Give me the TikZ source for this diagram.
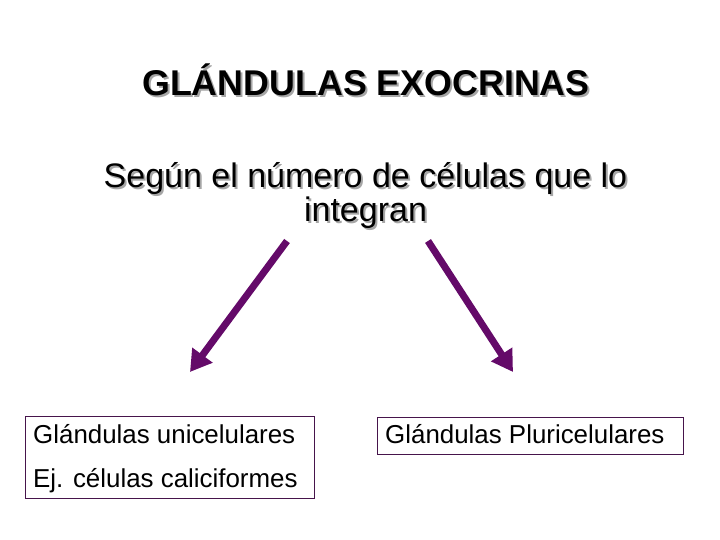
\documentclass[tikz,border=0pt]{standalone}
\usepackage{fontspec}
\setmainfont{Liberation Sans}
\usetikzlibrary{arrows.meta}
\definecolor{arrowpurple}{RGB}{100,10,105}
\definecolor{boxpurple}{RGB}{70,20,75}
\tikzset{
  txt/.style={inner sep=0pt, anchor=base},
  shadowtxt/.style={txt, text=black!35},
  fatarrow/.style={draw=arrowpurple, line width=7pt, -{Triangle[length=21pt,width=24pt]}},
  labelbox/.style={draw=boxpurple, line width=0.9pt}
}
\begin{document}
\begin{tikzpicture}[x=1pt,y=-1pt]
\useasboundingbox (0,0) rectangle (720,540);
% title
\node[shadowtxt] at (368,98) {\fontsize{35.8}{40}\selectfont\bfseries GLÁNDULAS EXOCRINAS};
\node[txt] (title) at (366,96) {\fontsize{35.8}{40}\selectfont\bfseries GLÁNDULAS EXOCRINAS};
% subtitle
\node[shadowtxt] at (367.5,190) {\fontsize{34}{36}\selectfont Según el número de células que lo};
\node[txt] (sub1) at (365.5,188) {\fontsize{34}{36}\selectfont Según el número de células que lo};
\node[shadowtxt] at (367.5,224) {\fontsize{34}{36}\selectfont integran};
\node[txt] (sub2) at (365.5,222) {\fontsize{34}{36}\selectfont integran};
% arrows
\coordinate (a1s) at (287,241);
\coordinate (a1e) at (190,372);
\coordinate (a2s) at (428,241);
\coordinate (a2e) at (513,372);
\draw[fatarrow] (a1s) -- (a1e);
\draw[fatarrow] (a2s) -- (a2e);
% boxes
\draw[labelbox] (25,416) rectangle (314,498);
\node[txt, anchor=base west] (uni) at (33,443) {\fontsize{25.9}{30}\selectfont Glándulas unicelulares};
\node[txt, anchor=base west] (ej) at (33,487) {\fontsize{25.9}{30}\selectfont Ej. células caliciformes};
\draw[labelbox] (377,417) rectangle (683,454);
\node[txt, anchor=base west] (pluri) at (385,443) {\fontsize{25.9}{30}\selectfont Glándulas Pluricelulares};
\end{tikzpicture}
\end{document}
